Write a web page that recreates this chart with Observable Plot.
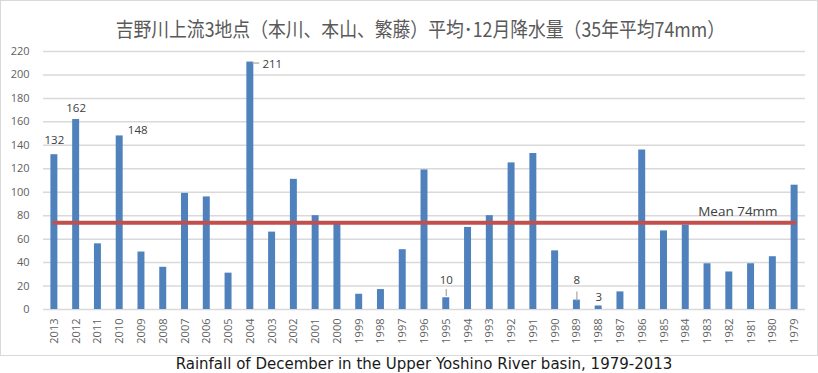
<!DOCTYPE html>
<html>
<head>
<meta charset="utf-8">
<script src="https://cdn.jsdelivr.net/npm/d3@7"></script>
<script src="https://cdn.jsdelivr.net/npm/@observablehq/plot@0.6"></script>
<style>
  html, body { margin: 0; padding: 0; background: #fff; }
  #frame { width: 818px; height: 356px; box-sizing: border-box; border: 1px solid #D9D9D9; overflow: hidden; }
  #title { height: 43px; box-sizing: border-box; padding-top: 15px; padding-left: 22px; line-height: 26px; text-align: center;
           font-family: "Noto Sans CJK JP", sans-serif; font-size: 20px; color: #595959; white-space: nowrap; }
  #title span { display: inline-block; transform: scaleX(0.89); transform-origin: center; }
  #caption { width: 818px; box-sizing: border-box; padding-left: 30px; text-align: center; line-height: 16px;
             font-family: "DejaVu Sans", sans-serif; font-size: 15px; color: #1a1a1a; white-space: nowrap; }
  svg { display: block; }
</style>
</head>
<body>
<div id="frame">
  <div id="title"><span>吉野川上流3地点（本川、本山、繁藤）平均･12月降水量（35年平均74mm）</span></div>
  <div id="chart"></div>
</div>
<div id="caption">Rainfall of December in the Upper Yoshino River basin, 1979-2013</div>
<script>
const years = ["2013","2012","2011","2010","2009","2008","2007","2006","2005","2004","2003","2002","2001","2000","1999","1998","1997","1996","1995","1994","1993","1992","1991","1990","1989","1988","1987","1986","1985","1984","1983","1982","1981","1980","1979"];
const rainfall = [132,162,56,148,49,36,99,96,31,211,66,111,80,73,13,17,51,119,10,70,80,125,133,50,8,3,15,136,67,72,39,32,39,45,106];
const meanValue = 74;
const meanLabel = "Mean 74mm";
const yTicks = [0,20,40,60,80,100,120,140,160,180,200,220];

const data = years.map((y, i) => ({year: y, value: rainfall[i]}));
const meanData = years.map(y => ({year: y, value: meanValue}));
const lab = y => data.filter(d => d.year === y);

const labelStyle = {fontSize: 11.5, fill: "#404040", fontFamily: "Open Sans"};

const chart = Plot.plot({
  width: 816,
  height: 311,
  marginLeft: 42,
  marginRight: 12,
  marginTop: 7,
  marginBottom: 46,
  style: {fontFamily: "Open Sans", fontSize: "11px", color: "#5f5f5f", background: "white", overflow: "visible"},
  x: {domain: years, paddingInner: 0.68, paddingOuter: 0.34, round: false, label: null},
  y: {domain: [0, 220], label: null},
  marks: [
    Plot.gridY(yTicks, {stroke: "#D9D9D9", strokeOpacity: 1, strokeWidth: 1.5}),
    Plot.axisY({ticks: yTicks, tickSize: 0, tickPadding: 14, label: null}),
    Plot.axisX({tickRotate: -90, tickSize: 0, tickPadding: 9, label: null}),
    Plot.barY(data, {x: "year", y: "value", fill: "#4F81BD"}),
    Plot.line(meanData, {x: "year", y: "value", stroke: "#C0504D", strokeWidth: 4}),
    Plot.text(meanData.slice(-1), {x: "year", y: "value", text: () => meanLabel, textAnchor: "end", dx: -17, dy: -11, fontSize: 13.5, fill: "#404040", fontFamily: "Open Sans"}),
    // data labels
    Plot.text(lab("2013"), {x: "year", y: "value", text: "value", dy: -14, ...labelStyle}),
    Plot.text(lab("2012"), {x: "year", y: "value", text: "value", dy: -11, ...labelStyle}),
    Plot.text(lab("2010"), {x: "year", y: "value", text: "value", dx: 18, dy: -6, ...labelStyle}),
    Plot.text(lab("2004"), {x: "year", y: "value", text: "value", dx: 22, dy: 2, ...labelStyle}),
    Plot.tickY(lab("2004"), {x: "year", y: "value", dx: 6, dy: 1, stroke: "#A6A6A6", strokeWidth: 1.2}),
    Plot.text(lab("1995"), {x: "year", y: "value", text: "value", dy: -17, ...labelStyle}),
    Plot.ruleX(lab("1995"), {x: "year", y1: d => d.value + 1, y2: d => d.value + 7, stroke: "#A6A6A6", strokeWidth: 1.2}),
    Plot.text(lab("1989"), {x: "year", y: "value", text: "value", dy: -20, ...labelStyle}),
    Plot.ruleX(lab("1989"), {x: "year", y1: d => d.value - 1, y2: d => d.value + 7, stroke: "#A6A6A6", strokeWidth: 1.2}),
    Plot.text(lab("1988"), {x: "year", y: "value", text: "value", dy: -9, ...labelStyle})
  ]
});
document.getElementById("chart").appendChild(chart);
</script>
</body>
</html>
